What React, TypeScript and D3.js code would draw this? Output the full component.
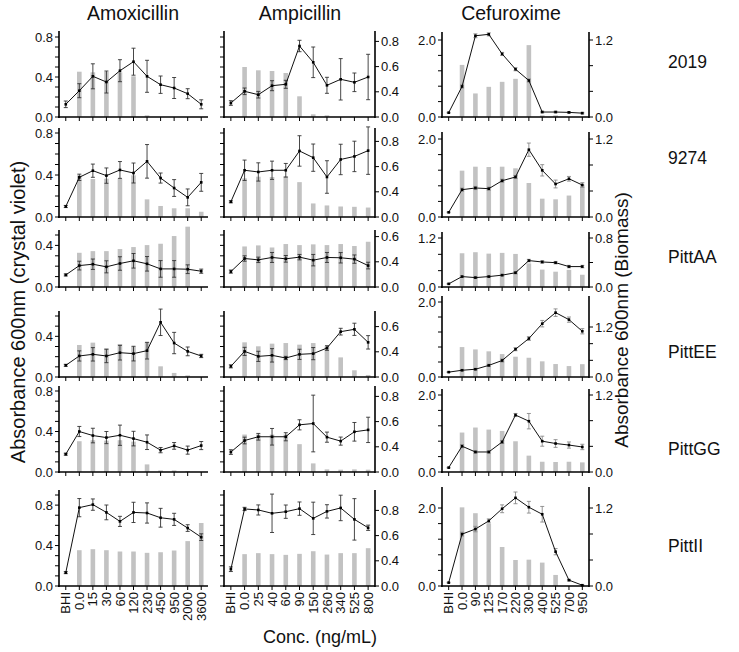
import React from "react";
import * as d3 from "d3";

const W = 739;
const H = 652;
const FONT = "Arial, 'Liberation Sans', Helvetica, sans-serif";

const drugs = ["Amoxicillin", "Ampicillin", "Cefuroxime"];
const strains = ["2019", "9274", "PittAA", "PittEE", "PittGG", "PittII"];

const amoxConc = ["BHI", "0.0", "15", "30", "60", "120", "230", "450", "950", "2000", "3600"];
const ampConc = ["BHI", "0.0", "25", "40", "60", "90", "150", "260", "340", "525", "800"];
const cefConc = ["BHI", "0.0", "90", "125", "170", "220", "300", "400", "525", "700", "950"];

// Amoxicillin: line (biomass), error, bars (crystal violet)
const amoxLine = [
  [0.127, 0.263, 0.407, 0.35, 0.463, 0.553, 0.407, 0.323, 0.29, 0.233, 0.127],
  [0.1, 0.378, 0.441, 0.394, 0.448, 0.419, 0.53, 0.371, 0.276, 0.187, 0.33],
  [0.116, 0.206, 0.219, 0.194, 0.226, 0.252, 0.223, 0.174, 0.174, 0.171, 0.152],
  [0.115, 0.207, 0.223, 0.207, 0.239, 0.23, 0.259, 0.538, 0.334, 0.252, 0.207],
  [0.176, 0.4, 0.36, 0.34, 0.363, 0.33, 0.294, 0.216, 0.258, 0.216, 0.261],
  [0.132, 0.775, 0.805, 0.728, 0.639, 0.728, 0.722, 0.675, 0.659, 0.573, 0.483],
];
const amoxErr = [
  [0.033, 0.07, 0.125, 0.11, 0.11, 0.135, 0.16, 0.087, 0.105, 0.05, 0.045],
  [0.01, 0.03, 0.063, 0.073, 0.08, 0.095, 0.16, 0.048, 0.08, 0.08, 0.085],
  [0.01, 0.042, 0.05, 0.058, 0.065, 0.07, 0.07, 0.08, 0.08, 0.042, 0.02],
  [0.01, 0.05, 0.066, 0.066, 0.072, 0.072, 0.082, 0.13, 0.105, 0.043, 0.016],
  [0.01, 0.05, 0.072, 0.06, 0.1, 0.072, 0.072, 0.026, 0.033, 0.04, 0.04],
  [0.01, 0.09, 0.056, 0.073, 0.05, 0.1, 0.1, 0.093, 0.06, 0.033, 0.033],
];
const amoxBars = [
  [0, 0.453, 0.447, 0.453, 0.447, 0.407, 0.017, 0, 0, 0, 0],
  [0, 0.397, 0.362, 0.365, 0.365, 0.397, 0.168, 0.105, 0.083, 0.083, 0.05],
  [0, 0.329, 0.345, 0.345, 0.365, 0.384, 0.403, 0.416, 0.49, 0.58, 0],
  [0, 0.315, 0.338, 0.282, 0.325, 0.3, 0.344, 0.105, 0.04, 0.016, 0],
  [0, 0.304, 0.314, 0.31, 0.314, 0.3, 0.075, 0.016, 0.016, 0.01, 0],
  [0, 0.354, 0.364, 0.354, 0.341, 0.341, 0.328, 0.334, 0.351, 0.444, 0.623],
];

// Ampicillin
const ampLine = [
  [0.14, 0.257, 0.223, 0.313, 0.327, 0.71, 0.547, 0.317, 0.377, 0.347, 0.4],
  [0.145, 0.445, 0.429, 0.445, 0.445, 0.629, 0.565, 0.381, 0.548, 0.577, 0.632],
  [0.148, 0.274, 0.261, 0.284, 0.271, 0.287, 0.258, 0.284, 0.281, 0.268, 0.206],
  [0.105, 0.252, 0.203, 0.213, 0.187, 0.223, 0.23, 0.285, 0.446, 0.469, 0.341],
  [0.197, 0.311, 0.348, 0.348, 0.348, 0.466, 0.479, 0.344, 0.305, 0.397, 0.416],
  [0.166, 0.762, 0.752, 0.719, 0.735, 0.765, 0.669, 0.738, 0.772, 0.659, 0.576],
];
const ampErr = [
  [0.023, 0.033, 0.033, 0.05, 0.04, 0.057, 0.153, 0.08, 0.207, 0.093, 0.227],
  [0.01, 0.097, 0.087, 0.087, 0.065, 0.145, 0.13, 0.155, 0.145, 0.145, 0.226],
  [0.015, 0.026, 0.026, 0.048, 0.032, 0.026, 0.055, 0.048, 0.05, 0.04, 0.032],
  [0.015, 0.04, 0.05, 0.066, 0.016, 0.05, 0.06, 0.023, 0.033, 0.06, 0.066],
  [0.023, 0.033, 0.033, 0.082, 0.04, 0.05, 0.28, 0.05, 0.04, 0.092, 0.125],
  [0.023, 0.016, 0.05, 0.19, 0.066, 0.066, 0.16, 0.066, 0.126, 0.205, 0.026],
];
const ampBars = [
  [0, 0.5, 0.467, 0.46, 0.44, 0.207, 0.027, 0.017, 0, 0, 0],
  [0, 0.368, 0.384, 0.381, 0.387, 0.332, 0.129, 0.11, 0.1, 0.097, 0.09],
  [0, 0.39, 0.4, 0.38, 0.413, 0.403, 0.41, 0.403, 0.413, 0.394, 0.435],
  [0, 0.341, 0.302, 0.328, 0.334, 0.318, 0.334, 0.302, 0.193, 0.066, 0.02],
  [0, 0.37, 0.37, 0.37, 0.37, 0.275, 0.085, 0.026, 0.023, 0.026, 0.023],
  [0, 0.315, 0.325, 0.315, 0.308, 0.318, 0.344, 0.311, 0.325, 0.325, 0.374],
];

// Cefuroxime (line on left axis, bars on right axis)
const cefLine = [
  [0.112, 0.793, 2.11, 2.147, 1.638, 1.241, 0.948, 0.129, 0.129, 0.12, 0.1],
  [0.12, 0.7, 0.744, 0.726, 0.93, 1.026, 1.726, 1.197, 0.846, 0.98, 0.82],
  [0.077, 0.255, 0.23, 0.255, 0.29, 0.35, 0.647, 0.613, 0.596, 0.5, 0.5],
  [0.13, 0.18, 0.207, 0.31, 0.44, 0.741, 1.026, 1.422, 1.716, 1.53, 1.22],
  [0.113, 0.67, 0.52, 0.52, 0.78, 1.48, 1.32, 0.8, 0.74, 0.7, 0.65],
  [0.086, 1.33, 1.46, 1.67, 1.98, 2.26, 2.02, 1.84, 0.88, 0.15, 0.02],
];
const cefErr = [
  [0.01, 0.04, 0.05, 0.04, 0.04, 0.04, 0.04, 0.02, 0.02, 0.02, 0.02],
  [0.01, 0.04, 0.04, 0.04, 0.04, 0.04, 0.17, 0.145, 0.1, 0.06, 0.06],
  [0.01, 0.02, 0.02, 0.02, 0.02, 0.03, 0.03, 0.03, 0.03, 0.03, 0.03],
  [0.01, 0.02, 0.02, 0.03, 0.04, 0.04, 0.05, 0.086, 0.1, 0.07, 0.07],
  [0.01, 0.04, 0.03, 0.03, 0.04, 0.04, 0.2, 0.13, 0.1, 0.08, 0.07],
  [0.01, 0.05, 0.07, 0.05, 0.1, 0.15, 0.15, 0.2, 0.08, 0.02, 0.01],
];
const cefBars = [
  [0, 0.812, 0.367, 0.47, 0.548, 0.595, 1.12, 0.026, 0.026, 0, 0],
  [0, 0.713, 0.774, 0.769, 0.774, 0.749, 0.523, 0.282, 0.272, 0.33, 0.5],
  [0, 0.551, 0.568, 0.545, 0.557, 0.54, 0.386, 0.284, 0.25, 0.28, 0.2],
  [0, 0.718, 0.662, 0.616, 0.55, 0.487, 0.462, 0.376, 0.311, 0.262, 0.308],
  [0, 0.615, 0.693, 0.661, 0.64, 0.479, 0.255, 0.16, 0.156, 0.16, 0.15],
  [0, 1.21, 1.12, 0.96, 0.6, 0.4, 0.405, 0.36, 0.17, 0, 0],
];

// axis tick label sets
const leftMaxes = [0.8, 0.8, 0.5, 0.6, 0.8, 0.9];
const cefLeftMaxes = [2.0, 2.0, 1.2, 2.0, 2.0, 2.0];
const cefRightMaxes = [1.2, 1.2, 0.8, 1.2, 1.2, 1.2];
const ampRightLabels = [
  ["0.0", "0.4", "0.6", "0.8"],
  ["0.0", "0.4", "0.6", "0.8"],
  ["0.0", "0.4", "0.6"],
  ["0.0", "0.4", "0.6"],
  ["0.0", "0.4", "0.6", "0.8"],
  ["0.0", "0.4", "0.6", "0.8"],
];

const concs = [amoxConc, ampConc, cefConc];
const lines = [amoxLine, ampLine, cefLine];
const errs = [amoxErr, ampErr, cefErr];
const bars = [amoxBars, ampBars, cefBars];

// layout (pixels)
const colLayout = [
  { x0: 59, x1: 208, titleX: 133 },
  { x0: 224, x1: 375, titleX: 300 },
  { x0: 442, x1: 589, titleX: 511 },
];
const rowLayout = [
  { y0: 117, yTop: 37, axisTop: 31, cefTop: 40, cefRTop: 40, cefAxisTop: 32, labelY: 68 },
  { y0: 217, yTop: 133, axisTop: 128, cefTop: 139, cefRTop: 139, cefAxisTop: 132, labelY: 164 },
  { y0: 287, yTop: 235, axisTop: 230, cefTop: 238, cefRTop: 238, cefAxisTop: 232, labelY: 263 },
  { y0: 377, yTop: 316, axisTop: 311, cefTop: 302, cefRTop: 327, cefAxisTop: 296, labelY: 358 },
  { y0: 472, yTop: 391, axisTop: 386, cefTop: 395, cefRTop: 395, cefAxisTop: 389, labelY: 455 },
  { y0: 586, yTop: 495, axisTop: 490, cefTop: 508, cefRTop: 508, cefAxisTop: 487, labelY: 552 },
];
const RIGHT_STEP = 25.2;

const TICK_FS = 13;
const BAR_W = 4.6;
const BAR_FILL = "#c2c2c2";

const isMult = (v: number, s: number) => Math.abs(v / s - Math.round(v / s)) < 1e-6;
const fmt = d3.format(".1f");

function Panel({ r, c }: { r: number; c: number }) {
  const col = colLayout[c];
  const row = rowLayout[r];
  const cats = concs[c];
  const x = d3.scaleBand<string>().domain(cats).range([col.x0, col.x1]).paddingInner(0).paddingOuter(0);
  const cx = (i: number) => (x(cats[i]) as number) + x.bandwidth() / 2;
  const isCef = c === 2;
  const leftMax = isCef ? cefLeftMaxes[r] : leftMaxes[r];
  const topY = isCef ? row.cefTop : row.yTop;
  const axisTop = isCef ? row.cefAxisTop : row.axisTop;
  const yL = d3.scaleLinear().domain([0, leftMax]).range([row.y0, topY]);
  const yR = isCef ? d3.scaleLinear().domain([0, cefRightMaxes[r]]).range([row.y0, row.cefRTop]) : yL;
  const yBar = isCef ? yR : yL;

  const lv = lines[c][r];
  const ev = errs[c][r];
  const bv = bars[c][r];

  const lineGen = d3
    .line<number>()
    .x((_, i) => cx(i))
    .y((d) => yL(d));

  const leftTicks = isCef ? d3.range(0, leftMax + 1e-9, 0.4) : d3.range(0, leftMax + 1e-9, 0.1);
  const leftLabeled = (v: number) =>
    isCef ? Math.abs(v) < 1e-9 || Math.abs(v - leftMax) < 1e-9 : isMult(v, 0.4);
  const showLeftLabels = c !== 1;
  const errColor = isCef ? "#8a8a8a" : "#333";

  const elements: React.ReactNode[] = [];

  bv.forEach((v, i) => {
    if (v <= 0) return;
    elements.push(
      <rect key={`b${i}`} x={cx(i) - BAR_W / 2} y={yBar(v)} width={BAR_W} height={row.y0 - yBar(v)} fill={BAR_FILL} />
    );
  });

  lv.forEach((v, i) => {
    const e = ev[i];
    const yt = yL(v + e);
    const yb = yL(Math.max(0, v - e));
    elements.push(
      <g key={`e${i}`} stroke={errColor} strokeWidth={0.9}>
        <line x1={cx(i)} x2={cx(i)} y1={yt} y2={yb} />
        <line x1={cx(i) - 2} x2={cx(i) + 2} y1={yt} y2={yt} />
        <line x1={cx(i) - 2} x2={cx(i) + 2} y1={yb} y2={yb} />
      </g>
    );
  });

  elements.push(<path key="ln" d={lineGen(lv) || ""} fill="none" stroke="#111" strokeWidth={1} />);
  lv.forEach((v, i) => {
    elements.push(<rect key={`m${i}`} x={cx(i) - 1.3} y={yL(v) - 1.3} width={2.6} height={2.6} fill="#000" />);
  });

  elements.push(
    <line key="la" x1={col.x0} x2={col.x0} y1={axisTop} y2={row.y0 + 1} stroke="#000" strokeWidth={1.6} />
  );
  leftTicks.forEach((v, i) => {
    elements.push(
      <line key={`lt${i}`} x1={col.x0 - 4} x2={col.x0} y1={yL(v)} y2={yL(v)} stroke="#000" strokeWidth={1} />
    );
    if (showLeftLabels && leftLabeled(v)) {
      elements.push(
        <text
          key={`ll${i}`}
          x={col.x0 - 6}
          y={yL(v)}
          dy="0.35em"
          textAnchor="end"
          fontSize={TICK_FS}
          fontFamily={FONT}
          fill="#111"
        >
          {fmt(v)}
        </text>
      );
    }
  });

  if (c === 1) {
    const labs = ampRightLabels[r];
    const yP = d3
      .scalePoint<string>()
      .domain(labs)
      .range([row.y0, row.y0 - RIGHT_STEP * (labs.length - 1)]);
    elements.push(
      <line key="ra" x1={col.x1} x2={col.x1} y1={axisTop} y2={row.y0 + 1} stroke="#000" strokeWidth={1.6} />
    );
    labs.forEach((l, i) => {
      const yy = yP(l) as number;
      elements.push(
        <line key={`rt${i}`} x1={col.x1} x2={col.x1 + 4} y1={yy} y2={yy} stroke="#000" strokeWidth={1} />
      );
      elements.push(
        <text key={`rl${i}`} x={col.x1 + 6} y={yy} dy="0.35em" fontSize={TICK_FS} fontFamily={FONT} fill="#111">
          {l}
        </text>
      );
    });
  }
  if (isCef) {
    const rMax = cefRightMaxes[r];
    const rTicks = d3.range(0, rMax + 1e-9, 0.4);
    elements.push(
      <line key="ra" x1={col.x1} x2={col.x1} y1={axisTop} y2={row.y0 + 1} stroke="#000" strokeWidth={1.6} />
    );
    rTicks.forEach((v, i) => {
      elements.push(
        <line key={`rt${i}`} x1={col.x1} x2={col.x1 + 4} y1={yR(v)} y2={yR(v)} stroke="#000" strokeWidth={1} />
      );
      if (Math.abs(v) < 1e-9 || Math.abs(v - rMax) < 1e-9) {
        elements.push(
          <text key={`rl${i}`} x={col.x1 + 6} y={yR(v)} dy="0.35em" fontSize={TICK_FS} fontFamily={FONT} fill="#111">
            {fmt(v)}
          </text>
        );
      }
    });
  }

  elements.push(
    <line key="xa" x1={col.x0 - 1} x2={col.x1} y1={row.y0} y2={row.y0} stroke="#000" strokeWidth={1.6} />
  );
  cats.forEach((k, i) => {
    elements.push(
      <line key={`xt${i}`} x1={cx(i)} x2={cx(i)} y1={row.y0} y2={row.y0 + 4} stroke="#000" strokeWidth={1} />
    );
    if (r === strains.length - 1) {
      elements.push(
        <text
          key={`xl${i}`}
          transform={`translate(${cx(i)},${row.y0 + 6}) rotate(-90)`}
          dy="0.35em"
          textAnchor="end"
          fontSize={TICK_FS}
          fontFamily={FONT}
          fill="#111"
        >
          {k}
        </text>
      );
    }
  });

  return <g>{elements}</g>;
}

export default function App() {
  return (
    <svg
      width={W}
      height={H}
      viewBox={`0 0 ${W} ${H}`}
      style={{ position: "absolute", left: 0, top: 0, background: "#fff" }}
    >
      <rect x={0} y={0} width={W} height={H} fill="#fff" />
      {drugs.map((d, c) => (
        <text
          key={d}
          x={colLayout[c].titleX}
          y={20}
          textAnchor="middle"
          fontSize={19.5}
          fontFamily={FONT}
          fill="#111"
        >
          {d}
        </text>
      ))}
      {strains.map((s, r) => (
        <text key={s} x={668} y={rowLayout[r].labelY} fontSize={17.5} fontFamily={FONT} fill="#111">
          {s}
        </text>
      ))}
      {strains.map((_, r) => drugs.map((__, c) => <Panel key={`${r}-${c}`} r={r} c={c} />))}
      <text
        transform={`translate(25,312) rotate(-90)`}
        textAnchor="middle"
        fontSize={20}
        fontFamily={FONT}
        fill="#111"
      >
        Absorbance 600nm (crystal violet)
      </text>
      <text
        transform={`translate(628,320) rotate(-90)`}
        textAnchor="middle"
        fontSize={19}
        fontFamily={FONT}
        fill="#111"
      >
        Absorbance 600nm (Biomass)
      </text>
      <text x={320} y={643} textAnchor="middle" fontSize={18} fontFamily={FONT} fill="#111">
        Conc. (ng/mL)
      </text>
    </svg>
  );
}
